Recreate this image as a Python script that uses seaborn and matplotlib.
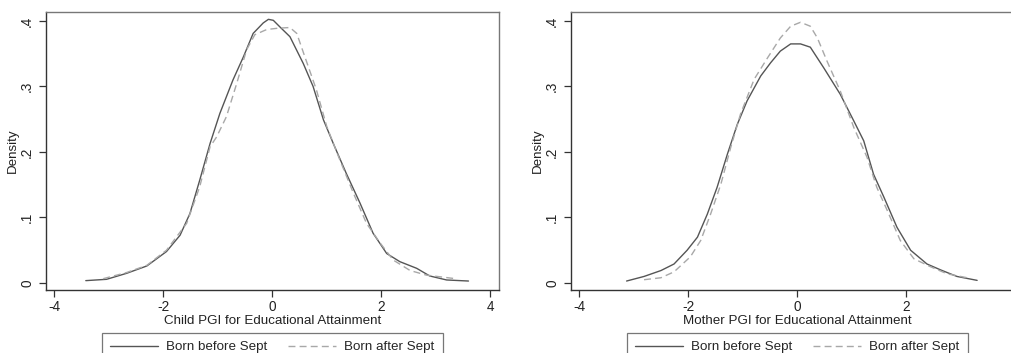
import matplotlib
matplotlib.use("Agg")
import pandas as pd
import matplotlib.pyplot as plt
import seaborn as sns

# =========================
# Datos (densidades kernel)
# =========================
child_before_x = [-3.42, -3.04, -2.67, -2.30, -1.94, -1.69, -1.51, -1.33, -1.14, -0.96, -0.72, -0.53,
                  -0.35, -0.165, -0.07, 0.02, 0.14, 0.325, 0.57, 0.75, 0.94, 1.12, 1.36, 1.61, 1.85,
                  2.10, 2.34, 2.65, 2.89, 3.20, 3.60]
child_before_y = [0.0036, 0.0056, 0.0148, 0.026, 0.048, 0.073, 0.106, 0.157, 0.213, 0.259, 0.31, 0.345,
                  0.381, 0.397, 0.4025, 0.401, 0.391, 0.376, 0.335, 0.30, 0.249, 0.213, 0.167, 0.122, 0.076,
                  0.045, 0.0326, 0.0224, 0.0107, 0.0046, 0.003]

child_after_x = [-3.10, -2.67, -2.30, -1.94, -1.57, -1.33, -1.14, -1.02, -0.84, -0.65, -0.47, -0.32,
                 -0.10, 0.11, 0.325, 0.45, 0.60, 0.81, 1.00, 1.24, 1.49, 1.73, 1.98, 2.22, 2.53,
                 2.83, 3.32]
child_after_y = [0.0066, 0.016, 0.027, 0.05, 0.091, 0.147, 0.208, 0.223, 0.254, 0.305, 0.356, 0.379,
                 0.387, 0.389, 0.390, 0.381, 0.345, 0.295, 0.239, 0.188, 0.137, 0.091, 0.061, 0.035, 0.019,
                 0.012, 0.007]

mother_before_x = [-3.13, -2.81, -2.50, -2.26, -2.02, -1.83, -1.65, -1.47, -1.28, -1.10, -0.92, -0.67,
                   -0.49, -0.31, -0.12, 0.06, 0.24, 0.49, 0.79, 1.04, 1.22, 1.40, 1.59, 1.83, 2.08,
                   2.38, 2.63, 2.93, 3.30]
mother_before_y = [0.003, 0.010, 0.019, 0.029, 0.050, 0.070, 0.105, 0.146, 0.197, 0.242, 0.278, 0.316,
                   0.336, 0.354, 0.365, 0.365, 0.360, 0.328, 0.288, 0.247, 0.217, 0.166, 0.131, 0.085, 0.050,
                   0.029, 0.020, 0.010, 0.004]

mother_after_x = [-2.81, -2.50, -2.26, -1.96, -1.77, -1.59, -1.40, -1.22, -1.04, -0.79, -0.55, -0.31,
                  -0.12, 0.06, 0.24, 0.37, 0.55, 0.79, 1.04, 1.28, 1.46, 1.65, 1.89, 2.14, 2.44,
                  2.75, 3.18]
mother_after_y = [0.005, 0.008, 0.017, 0.040, 0.065, 0.105, 0.151, 0.207, 0.258, 0.311, 0.343, 0.374,
                  0.392, 0.398, 0.392, 0.374, 0.338, 0.293, 0.237, 0.192, 0.146, 0.111, 0.065, 0.037, 0.025,
                  0.014, 0.007]

x_ticks = [-4, -2, 0, 2, 4]
x_ticks_derecha = [-4, -2, 0, 2]   # el 4 queda fuera de la figura en el original
y_ticks = [0, 0.1, 0.2, 0.3, 0.4]
y_tick_labels = ["0", ".1", ".2", ".3", ".4"]
series_labels = ["Born before Sept", "Born after Sept"]
panel_xlabels = ["Child PGI for Educational Attainment", "Mother PGI for Educational Attainment"]

sns.set_style("white")
plt.rcParams["font.family"] = ["Liberation Sans", "DejaVu Sans"]

fig = plt.figure(figsize=(10.11, 3.53), dpi=100)
ax_w, ax_h, ax_b = 453 / 1011, 278 / 353, 63 / 353
ax1 = fig.add_axes([46 / 1011, ax_b, ax_w, ax_h])
# el panel derecho se sale por el borde de la figura, como en el original
ax2 = fig.add_axes([571 / 1011, ax_b, ax_w, ax_h])

paneles = [
    (ax1, child_before_x, child_before_y, child_after_x, child_after_y, panel_xlabels[0], x_ticks),
    (ax2, mother_before_x, mother_before_y, mother_after_x, mother_after_y, panel_xlabels[1], x_ticks_derecha),
]

for ax, bx, by, axx, ay, xlabel, ticks in paneles:
    sns.lineplot(x=bx, y=by, ax=ax, color="#555555", linewidth=1.0, sort=False,
                 label=series_labels[0])
    sns.lineplot(x=axx, y=ay, ax=ax, color="#a8a8a8", linewidth=1.0, sort=False,
                 linestyle=(0, (5, 3)), label=series_labels[1])
    ax.set_xlim(-4.15, 4.16)
    ax.set_ylim(-0.0107, 0.4137)
    ax.set_xticks(ticks)
    ax.set_xticklabels([str(t) for t in ticks])
    ax.set_yticks(y_ticks)
    ax.set_yticklabels(y_tick_labels, rotation=90, va="center")
    ax.tick_params(axis="both", direction="out", length=5, width=0.9, color="#333333",
                   labelsize=9.8, labelcolor="#222222", pad=2, left=True, bottom=True)
    ax.tick_params(axis="y", pad=3.5)
    ax.set_xlabel(xlabel, fontsize=9.6, color="#222222", labelpad=1)
    ax.set_ylabel("Density", fontsize=9.6, color="#222222", labelpad=1)
    for lado in ["left", "bottom"]:
        ax.spines[lado].set_color("#333333")
        ax.spines[lado].set_linewidth(1.0)
    for lado in ["top", "right"]:
        ax.spines[lado].set_color("#777777")
        ax.spines[lado].set_linewidth(1.0)
    leg = ax.legend(loc="upper center", bbox_to_anchor=(0.5, -0.155), ncol=2, frameon=True,
                    fancybox=False, edgecolor="#555555", fontsize=9.6, handlelength=3.6,
                    columnspacing=1.55, borderpad=0.6, handletextpad=0.6, borderaxespad=0)
    leg.get_frame().set_linewidth(0.9)

fig.savefig("out.png", dpi=100, facecolor="white")
